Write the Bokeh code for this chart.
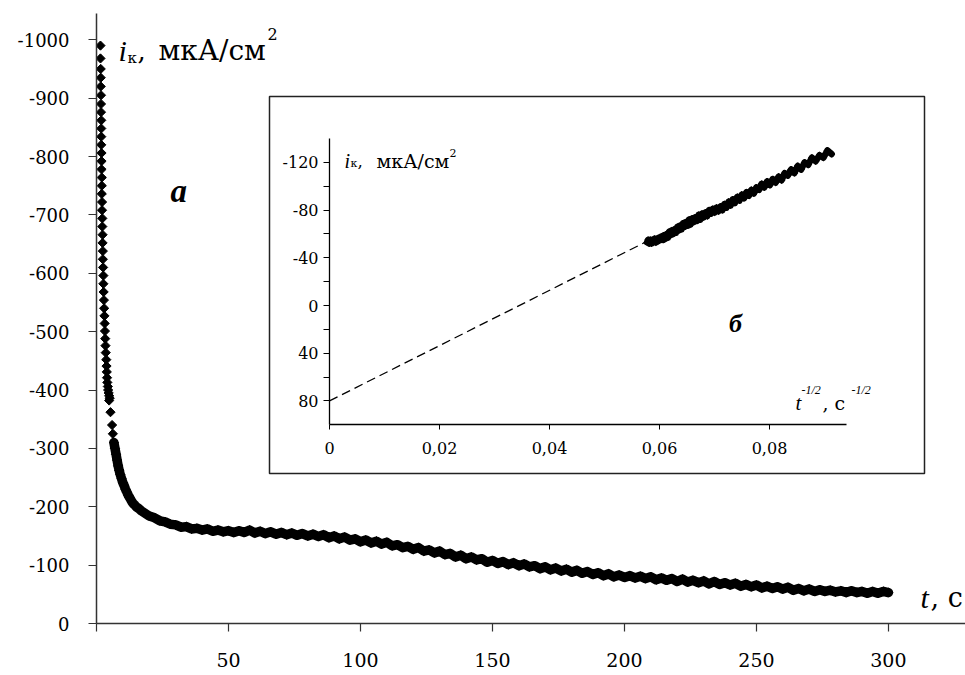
import numpy as np
from bokeh.plotting import figure
from bokeh.models import (Range1d, LinearAxis, FixedTicker, Label, BoxAnnotation,
                          CustomJSTickFormatter)
from bokeh.embed import file_html
from bokeh.resources import INLINE

# ---------------- data ----------------
T_EARLY = [1.5, 1.5, 1.6, 1.6, 1.6, 1.7, 1.7, 1.7, 1.8, 1.8, 1.8, 1.8, 1.9, 1.9, 1.9,
           2.0, 2.0, 2.0, 2.1, 2.1, 2.2, 2.2, 2.3, 2.3, 2.4, 2.4, 2.5, 2.6, 2.6, 2.7,
           2.8, 2.9, 3.0, 3.1, 3.2, 3.3, 3.4, 3.5, 3.7, 3.8, 3.9, 4.0, 4.1, 4.3, 4.4,
           4.6, 4.8, 5.0, 4.8, 5.3, 5.9, 6.2]
I_EARLY = [-990, -968, -950, -935, -920, -905, -890, -876, -862, -848, -834, -820, -806, -792, -778,
           -764, -750, -736, -722, -708, -694, -680, -666, -652, -638, -624, -610, -596, -582, -568,
           -554, -540, -527, -514, -501, -488, -476, -464, -452, -441, -431, -421, -413, -406, -400,
           -395, -390, -386, -382, -362, -340, -325]

T_MAIN = [6.6, 7.0, 7.4, 7.8, 8.2, 8.6, 9.0, 9.5, 10.0, 10.5, 11.0, 11.5, 12.0, 12.5,
          13.0, 13.5, 14.0, 14.5, 15.0, 16.0, 17.0, 18.0, 19.0,
          20, 22, 24, 26, 28, 30, 32, 34, 36, 38, 40, 42, 44, 46, 48, 50, 52, 54, 56, 58,
          60, 62, 64, 66, 68, 70, 72, 74, 76, 78, 80, 82, 84, 86, 88, 90, 92, 94, 96, 98,
          100, 102, 104, 106, 108, 110, 112, 114, 116, 118, 120, 122, 124, 126, 128, 130,
          132, 134, 136, 138, 140, 142, 144, 146, 148, 150, 152, 154, 156, 158, 160, 162,
          164, 166, 168, 170, 172, 174, 176, 178, 180, 182, 184, 186, 188, 190, 192, 194,
          196, 198, 200, 202, 204, 206, 208, 210, 212, 214, 216, 218, 220, 222, 224, 226,
          228, 230, 232, 234, 236, 238, 240, 242, 244, 246, 248, 250, 252, 254, 256, 258,
          260, 262, 264, 266, 268, 270, 272, 274, 276, 278, 280, 282, 284, 286, 288, 290,
          292, 294, 296, 298, 300]
I_MAIN = [-310, -300, -290, -280, -270, -262, -255, -248, -241, -236, -230, -225, -220, -216,
          -212, -208, -205, -203, -200, -197, -193, -190, -187,
          -184, -181, -176, -174, -170, -169, -165, -166, -162, -163, -160, -162, -158, -160,
          -157, -159, -156, -159, -156, -160, -155, -158, -154, -157, -153, -156, -152, -155,
          -151, -154, -150, -153, -149, -152, -147, -150, -145, -148, -143, -145, -140, -143,
          -138, -141, -136, -139, -133, -135, -130, -132, -127, -130, -124, -126, -121, -124,
          -118, -120, -114, -117, -111, -114, -109, -111, -105, -108, -103, -106, -101, -104,
          -99, -102, -97, -99, -94, -97, -92, -95, -90, -93, -88, -91, -86, -89, -84, -87,
          -82, -85, -80, -83, -79, -82, -78, -81, -77, -80, -75, -78, -74, -77, -72, -76,
          -71, -74, -70, -73, -68, -72, -67, -70, -66, -69, -64, -67, -63, -66, -61, -64,
          -60, -63, -59, -62, -57, -60, -56, -59, -55, -58, -55, -57, -54, -56, -53, -56,
          -53, -55, -52, -55, -52, -55, -53]

X_TICKS = [0, 50, 100, 150, 200, 250, 300]
Y_TICKS = [0, -100, -200, -300, -400, -500, -600, -700, -800, -900, -1000]

INSET_T_MIN = 120
DASH_X = [0.0, 0.0578]
DASH_Y = [80, -54]
INSET_X_TICKS = [0, 0.02, 0.04, 0.06, 0.08]
INSET_Y_TICKS = [-120, -80, -40, 0, 40, 80]
INSET_Y_MINOR = [-100, -60, -20, 20, 60]

# ---------------- layout ----------------
W, H = 965, 675
FRAME_L, FRAME_R, FRAME_T, FRAME_B = 96, 965, 13, 623
X_RANGE = (0, 329.2)
Y_RANGE = (0, -1045)
INSET_X0, INSET_PPX = 329, 5500.0
INSET_Y0, INSET_PPY = 305, 1.1925
INSET_XB = (0, 0.094)
INSET_YB = (-140, 100)
AX = "#333333"
REG = "DejaVu Serif"        # upright serif
ITA = "Liberation Serif"    # italic / bold italic serif

def main_xy(px, py):
    x = X_RANGE[0] + (px - FRAME_L) * (X_RANGE[1] - X_RANGE[0]) / (FRAME_R - FRAME_L)
    y = Y_RANGE[0] + (FRAME_B - py) * (Y_RANGE[1] - Y_RANGE[0]) / (FRAME_B - FRAME_T)
    return x, y

def inset_xy(px, py):
    return (px - INSET_X0) / INSET_PPX, (py - INSET_Y0) / INSET_PPY

t_all = np.array(T_EARLY + T_MAIN, dtype=float)
i_all = np.array(I_EARLY + I_MAIN, dtype=float)
t_main = np.array(T_MAIN, dtype=float)
i_main = np.array(I_MAIN, dtype=float)

p = figure(width=W, height=H, output_backend="svg", toolbar_location=None,
           x_range=Range1d(*X_RANGE), y_range=Range1d(*Y_RANGE),
           min_border_left=FRAME_L, min_border_right=W - FRAME_R,
           min_border_top=FRAME_T, min_border_bottom=H - FRAME_B)
p.outline_line_color = None
p.grid.visible = False

p.extra_x_ranges = {"ix": Range1d((FRAME_L - INSET_X0) / INSET_PPX, (FRAME_R - INSET_X0) / INSET_PPX)}
p.extra_y_ranges = {"iy": Range1d((FRAME_B - INSET_Y0) / INSET_PPY, (FRAME_T - INSET_Y0) / INSET_PPY)}

plain = "return String(tick);"
for ax in (p.xaxis[0], p.yaxis[0]):
    ax.axis_line_color = AX
    ax.axis_line_width = 1.5
    ax.major_tick_line_color = AX
    ax.major_tick_line_width = 1.2
    ax.major_tick_out = 8
    ax.major_tick_in = 0
    ax.minor_tick_line_color = None
    ax.major_label_text_font = REG
    ax.major_label_text_color = "black"
p.yaxis.major_label_text_font_size = "18px"
p.xaxis.major_label_text_font_size = "19px"
p.xaxis.ticker = FixedTicker(ticks=X_TICKS, minor_ticks=[])
p.yaxis.ticker = FixedTicker(ticks=Y_TICKS, minor_ticks=[])
p.xaxis.formatter = CustomJSTickFormatter(code="return tick === 0 ? '' : String(tick);")
p.yaxis.formatter = CustomJSTickFormatter(code=plain)
p.xaxis.major_label_standoff = 21
p.yaxis.major_label_standoff = 19

x0, y0 = inset_xy(269, 96)
x1, y1 = inset_xy(924, 473)
box = BoxAnnotation(left=x0, right=x1, top=y0, bottom=y1, x_range_name="ix", y_range_name="iy",
                    fill_color="white", fill_alpha=1.0, line_color="#222222", line_alpha=1.0,
                    line_width=1.5, level="underlay")
p.add_layout(box)

# main data: dense band + markers
p.line(t_main, i_main, line_color="black", line_width=9.5, line_join="round", line_cap="round")
p.scatter(t_all, i_all, marker="square", angle=np.pi / 4, size=6.5, color="black")

# inset data
mask = t_main >= INSET_T_MIN
p.line(DASH_X, DASH_Y, x_range_name="ix", y_range_name="iy", line_color="black",
       line_width=1.3, line_dash="9 5")
p.line(t_main[mask] ** -0.5, i_main[mask], x_range_name="ix", y_range_name="iy",
       line_color="black", line_width=6.5, line_join="round", line_cap="round")
p.scatter(t_main[mask] ** -0.5, i_main[mask], x_range_name="ix", y_range_name="iy",
          marker="square", angle=np.pi / 4, size=4.5, color="black")

iy_ax = LinearAxis(x_range_name="ix", y_range_name="iy", fixed_location=0, bounds=INSET_YB,
                   ticker=FixedTicker(ticks=INSET_Y_TICKS, minor_ticks=INSET_Y_MINOR),
                   formatter=CustomJSTickFormatter(code=plain))
ix_ax = LinearAxis(x_range_name="ix", y_range_name="iy", fixed_location=INSET_YB[1], bounds=INSET_XB,
                   ticker=FixedTicker(ticks=INSET_X_TICKS, minor_ticks=[]),
                   formatter=CustomJSTickFormatter(
                       code="return tick === 0 ? '0' : tick.toFixed(2).replace('.', ',');"))
for ax in (iy_ax, ix_ax):
    ax.axis_line_color = "black"
    ax.axis_line_width = 1.3
    ax.major_tick_line_color = "black"
    ax.minor_tick_line_color = "black"
    ax.major_tick_in = 0
    ax.minor_tick_in = 0
    ax.major_label_text_font = REG
    ax.major_label_text_font_size = "16px"
    ax.major_label_text_color = "black"
iy_ax.major_tick_out = 6
iy_ax.minor_tick_out = 6
iy_ax.major_label_standoff = 5
ix_ax.major_tick_out = 5
ix_ax.major_label_standoff = 12
p.add_layout(iy_ax, "left")
p.add_layout(ix_ax, "below")

def txt(text, px, py, size, style="normal", align="left", where="main"):
    if where == "main":
        x, y = main_xy(px, py)
        lab = Label(x=x, y=y, text=text)
    else:
        x, y = inset_xy(px, py)
        lab = Label(x=x, y=y, text=text, x_range_name="ix", y_range_name="iy")
    lab.text_font = REG if style == "normal" else ITA
    lab.text_font_size = f"{size}px"
    lab.text_font_style = style
    lab.text_align = align
    lab.text_baseline = "alphabetic"
    lab.text_color = "black"
    p.add_layout(lab)

# main y title  i_к, мкА/см²
txt("i", 118, 50, 30, "italic")
txt("к", 127, 57, 15)
txt(",", 137, 50, 26)
txt("мкА/см", 158, 50, 28)
txt("2", 267, 33, 16)
# main x title  t, c
txt("t", 920, 597, 30, "italic")
txt(", c", 930, 597, 27)
# panel letters
txt("a", 170, 190, 33, "bold italic")
txt("б", 735, 323, 26, "bold italic", "center", "inset")
# inset y title
txt("i", 344, 160, 20, "italic", where="inset")
txt("к", 350, 163, 11, where="inset")
txt(",", 357, 160, 17, where="inset")
txt("мкА/см", 376, 160, 19, where="inset")
txt("2", 449, 152, 11, where="inset")
# inset x title  t^-1/2, c^-1/2
txt("t", 795, 402, 21, "italic", where="inset")
txt("-1/2", 801, 389, 12, "italic", where="inset")
txt(", c", 822, 402, 19, where="inset")
txt("-1/2", 851, 389, 12, "italic", where="inset")

open("out.html", "w").write(file_html(p, INLINE))
